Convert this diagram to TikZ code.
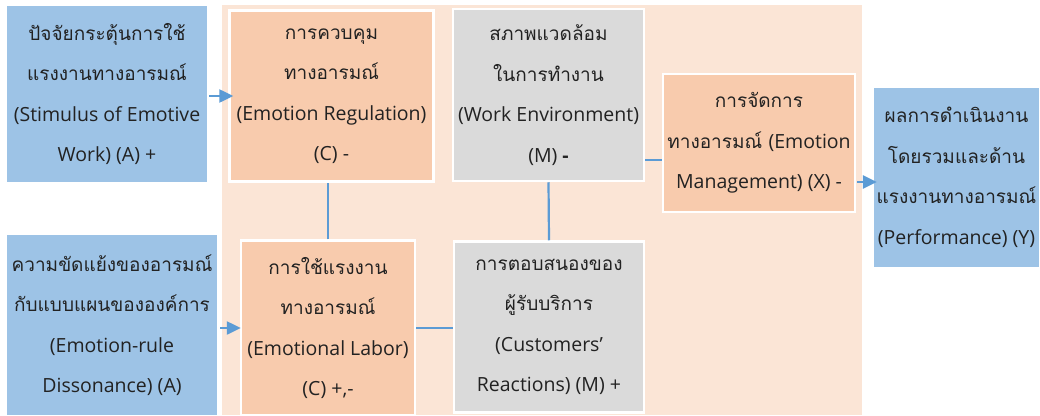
\documentclass[tikz,border=0pt]{standalone}
\usepackage{fontspec}
\newfontfamily\thaifont[Script=Thai]{Loma}
\newfontfamily\latfont{Open Sans}
\newcommand{\lt}[1]{{\latfont\fontsize{19.5}{40.5}\selectfont #1}}
\usetikzlibrary{arrows.meta,calc}
\definecolor{bluebox}{HTML}{9DC3E6}
\definecolor{orangebox}{HTML}{F8CBAD}
\definecolor{peach}{HTML}{FBE5D6}
\definecolor{graybox}{HTML}{DADADA}
\definecolor{linecol}{HTML}{5B9BD5}
\definecolor{txt}{HTML}{222222}
\tikzset{
  box/.style={rectangle, inner sep=0pt, align=center, text=txt,
    font=\thaifont\fontsize{19}{40.5}\selectfont},
  bluen/.style={box, fill=bluebox},
  orangen/.style={box, fill=orangebox, draw=white, line width=2.5pt},
  grayn/.style={box, fill=graybox, draw=white, line width=2.5pt},
  conn/.style={draw=linecol, line width=2.2pt},
  arr/.style={draw=linecol, line width=2.5pt, -{Triangle[length=14pt,width=13pt]}}
}
\begin{document}
\begin{tikzpicture}[x=1pt,y=-1pt]
\useasboundingbox (0,0) rectangle (1040,415);
\fill[white] (0,0) rectangle (1040,415);
\fill[peach] (222,5) rectangle (862,415);

\node[bluen, minimum width=200pt, minimum height=176pt] (b1) at (107,94)
  {ปัจจัยกระตุ้นการใช้\\แรงงานทางอารมณ์\\\lt{(Stimulus of Emotive}\\\lt{Work) (A) +}};
\node[bluen, minimum width=210pt, minimum height=180pt] (b2) at (112,325)
  {ความขัดแย้งของอารมณ์\\กับแบบแผนขององค์การ\\\lt{(Emotion-rule}\\\lt{Dissonance) (A)}};
\node[orangen, minimum width=204pt, minimum height=171pt] (o1) at (331.5,96)
  {การควบคุม\\ทางอารมณ์\\\lt{(Emotion Regulation)}\\\lt{(C) -}};
\node[orangen, minimum width=174pt, minimum height=175pt] (o2) at (328,328)
  {การใช้แรงงาน\\ทางอารมณ์\\\lt{(Emotional Labor)}\\\lt{(C) +,-}};
\node[grayn, minimum width=191pt, minimum height=172pt] (g1) at (548.5,95)
  {สภาพแวดล้อม\\ในการทำงาน\\\lt{(Work Environment)}\\\lt{(M) \textbf{-}}};
\node[grayn, minimum width=190pt, minimum height=171pt] (c) at (549,327)
  {การตอบสนองของ\\ผู้รับบริการ\\\lt{(Customers’}\\\lt{Reactions) (M) +}};
\node[orangen, minimum width=192pt, minimum height=138pt] (o3) at (759,143)
  {การจัดการ\\ทางอารมณ์ \lt{(Emotion}\\\lt{Management) (X) -}};
\node[bluen, minimum width=165pt, minimum height=179pt] (b3) at (956.5,177.5)
  {ผลการดำเนินงาน\\โดยรวมและด้าน\\แรงงานทางอารมณ์\\\lt{(Performance) (Y)}};

\coordinate (j) at (0,160);
\draw[conn] (o2.north) -- (o2.north |- o1.south);
\draw[conn] (g1.south) -- (c.north);
\draw[conn] (o2.east) -- (o2.east -| c.west);
\draw[conn] (g1.east |- j) -- (o3.west |- j);

\draw[arr, shorten <=2pt, shorten >=-5pt] (b1.east |- o1.west) -- (o1.west);
\draw[arr, shorten <=3pt, shorten >=-1pt] (b2.east |- o2.west) -- (o2.west);
\draw[arr, shorten <=1pt, shorten >=-3pt] ([yshift=-4.5pt]o3.east |- b3.west) -- ([yshift=-4.5pt]b3.west);
\end{tikzpicture}
\end{document}
